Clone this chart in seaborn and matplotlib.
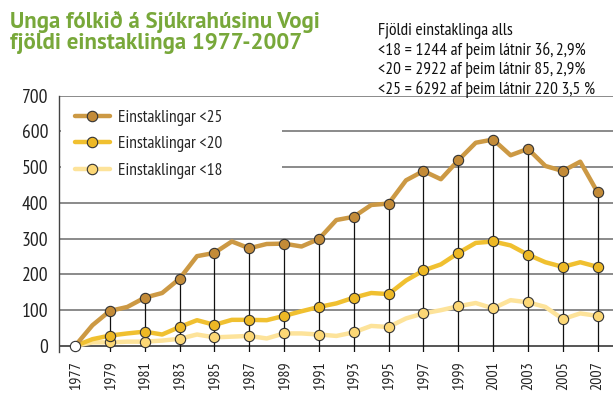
import matplotlib
matplotlib.use("Agg")
import matplotlib.pyplot as plt
from matplotlib.lines import Line2D
from matplotlib.patches import Rectangle
import seaborn as sns
import pandas as pd

years = list(range(1977, 2008))
u25 = [0, 58, 98, 109, 135, 148, 188, 251, 260, 292, 273, 285, 286, 278, 299, 352,
       361, 394, 398, 463, 489, 466, 519, 568, 577, 533, 551, 503, 489, 515, 429]
u20 = [0, 19, 29, 35, 40, 32, 53, 72, 59, 73, 73, 72, 84, 97, 109, 119,
       135, 148, 145, 183, 211, 228, 260, 288, 292, 281, 255, 234, 221, 234, 221]
u18 = [0, 10, 10, 12, 12, 15, 20, 32, 24, 26, 28, 21, 35, 35, 32, 28,
       38, 56, 53, 77, 91, 100, 111, 120, 105, 128, 122, 109, 75, 91, 84]

labels = ["Einstaklingar <25", "Einstaklingar <20", "Einstaklingar <18"]
line_colors = ["#CC9944", "#F0C030", "#FDE39A"]
marker_colors = ["#C38B38", "#EDB825", "#FCD775"]

title = "Unga fólkið á Sjúkrahúsinu Vogi\nfjöldi einstaklinga 1977-2007"
note = ("Fjöldi einstaklinga alls\n"
        "<18 = 1244 af þeim látnir 36, 2,9%\n"
        "<20 = 2922 af þeim látnir 85, 2,9%\n"
        "<25 = 6292 af þeim látnir 220 3,5 %")

df = pd.DataFrame({"year": years, "u25": u25, "u20": u20, "u18": u18})
odd = df[(df["year"] % 2 == 1) & (df["year"] > 1977)]
first = df[df["year"] == 1977]

sns.set_style("white")
plt.rcParams["font.family"] = ["PT Sans Narrow", "DejaVu Sans"]

fig = plt.figure(figsize=(6.13, 4.04), dpi=100)
ax = fig.add_axes([0.0963, 0.1295, 0.9037, 0.6341])

ymin = -16
ax.set_ylim(ymin, 700)
ax.set_xlim(1976.08, 2007.88)

for v in range(100, 701, 100):
    ax.axhline(v, color="#8a8a8a", lw=1.4, zorder=1)
ax.axhline(0, color="#555555", lw=1.4, zorder=1)

# drop lines from the <25 points
oddmask = df["year"] % 2 == 1
ax.vlines(df["year"][oddmask], ymin, df["u25"][oddmask],
          color="#111111", lw=0.9, zorder=2)

cols = ["u25", "u20", "u18"]
for i in [2, 1, 0]:
    sns.lineplot(data=df, x="year", y=cols[i], color=line_colors[i], lw=3.2,
                 ax=ax, legend=False, zorder=3)
for i in [2, 1, 0]:
    sns.scatterplot(data=odd, x="year", y=cols[i], color=marker_colors[i], s=55,
                    edgecolor="#333333", linewidth=0.8, ax=ax, legend=False, zorder=4)
sns.scatterplot(data=first, x="year", y="u25", color="white", s=55,
                edgecolor="#333333", linewidth=0.8, ax=ax, legend=False, zorder=5)

ax.set_xticks(years[::2])
ax.set_xticklabels([str(y) for y in years[::2]], rotation=90, fontsize=11.5, color="#222222")
ax.set_yticks(range(0, 701, 100))
ax.set_yticklabels([str(v) for v in range(0, 701, 100)], fontsize=14, color="#222222")
ax.tick_params(axis="x", length=0, pad=7)
ax.tick_params(axis="y", direction="inout", length=9.5, width=1, color="#444444", pad=3)
ax.set_xlabel("")
ax.set_ylabel("")
for s in ["top", "right", "bottom"]:
    ax.spines[s].set_visible(False)
ax.spines["left"].set_color("#444444")
ax.spines["left"].set_linewidth(1)

# white panel behind the legend
ax.add_patch(Rectangle((0.003, 0.592), 0.40, 0.40, transform=ax.transAxes,
                       facecolor="white", edgecolor="none", zorder=9))

handles = [Line2D([], [], color=line_colors[i], lw=3.2, marker="o", markersize=7.5,
                  markerfacecolor=marker_colors[i], markeredgecolor="#333333",
                  markeredgewidth=0.8) for i in range(3)]
leg = ax.legend(handles, labels, loc="upper left", bbox_to_anchor=(0.01, 0.985),
                fontsize=12.5, frameon=False, handlelength=2.0, labelspacing=0.6,
                borderpad=0.3, handletextpad=0.45, borderaxespad=0.3)
leg.set_zorder(10)

fig.text(0.016, 0.972, title, color="#78A83A", family=["PT Sans", "DejaVu Sans"],
         fontsize=16.5, fontweight="bold", va="top", ha="left", linespacing=0.98)
fig.text(0.617, 0.943, note, color="#111111", fontsize=12.5, va="top", ha="left",
         linespacing=1.22)

fig.savefig("out.png", dpi=100)
